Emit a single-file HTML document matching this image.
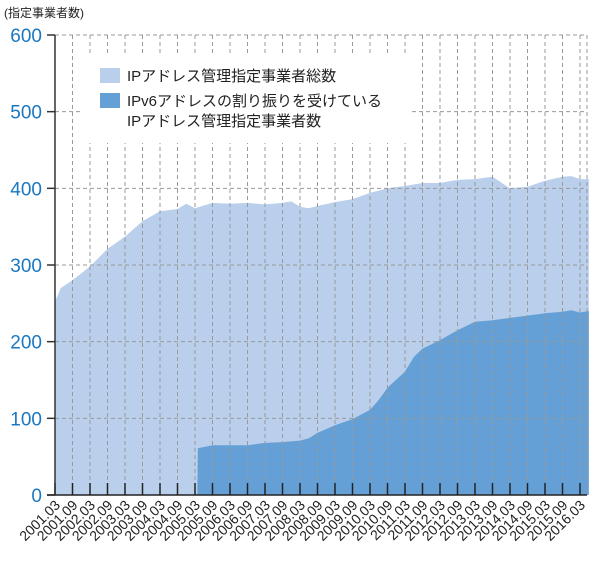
<!DOCTYPE html>
<html><head><meta charset="utf-8"><style>
html,body{margin:0;padding:0;background:#fff;}
svg{display:block;font-family:"Liberation Sans","Noto Sans CJK JP",sans-serif;}
</style></head><body>
<svg id="chart" width="600" height="566" viewBox="0 0 600 566" xmlns="http://www.w3.org/2000/svg">
<text x="4" y="17" font-size="12" fill="#222">(指定事業者数)</text>
<g id="areas"></g>
<g id="grid"></g>
<rect x="81" y="53" width="331" height="90" fill="#fff"/>
<g id="axes"></g>
<g>
<rect x="100" y="68" width="20" height="15" fill="#b9cfec"/>
<text x="127" y="81" font-size="15" fill="#222">IPアドレス管理指定事業者総数</text>
<rect x="100" y="93" width="20" height="15" fill="#64a0d6"/>
<text x="127" y="106" font-size="15" fill="#222">IPv6アドレスの割り振りを受けている</text>
<text x="127" y="126" font-size="15" fill="#222">IPアドレス管理指定事業者数</text>
</g>
</svg>
<script>
// months since 2001.03
const totalMonths = [0,2,6,12,18,24,30,36,42,45,48,54,60,66,72,78,81,84,87,90,96,102,108,114,120,126,132,138,144,150,156,162,168,174,177,180,183];
const totalValues = [252,270,280,298,321,337,357,370,373,380,374,381,380,381,379,381,383,376,374,377,382,386,394,400,403,407,407,411,412,415,400,402,410,415,416,412,412];
const ipv6Months = [0,48.8,49,54,60,66,72,78,84,87,90,96,102,108,111,114,120,123,126,132,138,144,150,156,162,168,174,177,180,183];
const ipv6Values = [0,0,61,65,65,65,68,69,71,74,81,91,99,111,124,140,161,180,191,202,215,226,228,231,234,237,239,241,238,240];
const yTicks = [0,100,200,300,400,500,600];
const xTickLabels = ["2001.03","2001.09","2002.03","2002.09","2003.03","2003.09","2004.03","2004.09","2005.03","2005.09","2006.03","2006.09","2007.03","2007.09","2008.03","2008.09","2009.03","2009.09","2010.03","2010.09","2011.03","2011.09","2012.03","2012.09","2013.03","2013.09","2014.03","2014.09","2015.03","2015.09","2016.03"];

const NS="http://www.w3.org/2000/svg";
const X0=55, XR=587, Y0=495, YT=35, STEP=17.5;
const xs = m => X0 + m*STEP/6;
const ys = v => Y0 - v*(Y0-YT)/600;
function mk(tag, attrs, parent){const e=document.createElementNS(NS,tag);for(const k in attrs)e.setAttribute(k,attrs[k]);parent.appendChild(e);return e;}
const areas=document.getElementById('areas'), grid=document.getElementById('grid'), axes=document.getElementById('axes');

function areaPath(ms, vs){
  let d="M"+xs(ms[0])+","+Y0;
  ms.forEach((m,i)=>{d+=" L"+xs(m).toFixed(1)+","+ys(vs[i]).toFixed(1);});
  d+=" L"+xs(ms[ms.length-1]).toFixed(1)+","+Y0+" Z";
  return d;
}
const a1=mk('path',{d:areaPath(totalMonths,totalValues),fill:'#b9cfec'},areas);


const a2=mk('path',{d:areaPath(ipv6Months,ipv6Values),fill:'#64a0d6'},areas);



yTicks.forEach(v=>{
  const y=ys(v);
  if(v>0){
    const g=mk('line',{x1:X0,x2:XR,y1:y,y2:y,stroke:'#999','stroke-width':1,'stroke-dasharray':'4,3'},grid);
    
    
  }
  const t=mk('line',{x1:47,x2:X0,y1:y,y2:y,stroke:'#333','stroke-width':1.5},axes);
  
  
  const l=mk('text',{x:42,y:y+7,'font-size':19,fill:'#1a78c2','text-anchor':'end'},axes);
  l.textContent=v;
  
  
});
xTickLabels.forEach((lab,i)=>{
  const x=X0+i*STEP;
  if(i>0){
    const g=mk('line',{x1:x,x2:x,y1:YT,y2:Y0-12,stroke:'#999','stroke-width':1,'stroke-dasharray':'4,3'},grid);
    
    
  }
  const t=mk('line',{x1:x,x2:x,y1:Y0-12,y2:Y0,stroke:'#222','stroke-width':1.5},axes);
  
  
  const lx=x+6, ly=Y0+11;
  const l=mk('text',{x:lx,y:ly,'font-size':14,fill:'#222','text-anchor':'end',transform:'rotate(-45 '+lx+' '+ly+')'},axes);
  l.textContent=lab;
  
  
});
const rg=mk('line',{x1:XR,x2:XR,y1:YT,y2:Y0,stroke:'#999','stroke-width':1,'stroke-dasharray':'4,3'},grid);


const ya=mk('line',{x1:X0,x2:X0,y1:YT,y2:Y0,stroke:'#333','stroke-width':1.5},axes);


const xa=mk('line',{x1:47,x2:XR,y1:Y0,y2:Y0,stroke:'#222','stroke-width':1.5},axes);


</script>
</body></html>
